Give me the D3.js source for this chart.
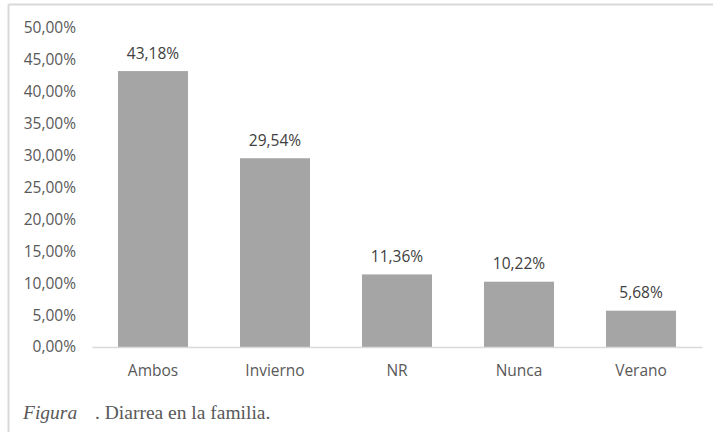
<!DOCTYPE html>
<html><head><meta charset="utf-8">
<script src="https://cdn.jsdelivr.net/npm/d3@7"></script>
<style>body{margin:0;background:#fff}svg{display:block}</style>
</head><body>
<script>
const categories = ["Ambos","Invierno","NR","Nunca","Verano"];
const values = [43.18,29.54,11.36,10.22,5.68];
const yTicks = [0,5,10,15,20,25,30,35,40,45,50];
const caption1 = "Figura";
const caption2 = ". Diarrea en la familia.";

const W=713,H=432;
const svg=d3.select("body").append("svg").attr("width",W).attr("height",H);
const fmt=v=>v.toFixed(2).replace(".",",")+"%";
// border (top and left)
svg.append("line").attr("x1",8.5).attr("x2",713).attr("y1",4.5).attr("y2",4.5).attr("stroke","#d9d9d9").attr("stroke-width",2);
svg.append("line").attr("x1",8.5).attr("x2",8.5).attr("y1",4.5).attr("y2",432).attr("stroke","#d9d9d9").attr("stroke-width",2);

const x=d3.scaleBand().domain(categories).range([92,702]).paddingInner(0.426).paddingOuter(0.213);
const y=d3.scaleLinear().domain([0,50]).range([347,27.5]);
const font="'Open Sans', sans-serif";
const fs=15.5;

const yAxis=svg.append("g").attr("transform","translate(76,0)")
 .call(d3.axisLeft(y).tickValues(yTicks).tickFormat(fmt).tickSize(0).tickPadding(0));
yAxis.select(".domain").remove();
yAxis.selectAll("text").attr("font-family",font).attr("font-size",fs).attr("fill","#595959");

svg.append("g").selectAll("rect").data(values).join("rect")
 .attr("x",(d,i)=>x(categories[i])).attr("width",x.bandwidth())
 .attr("y",d=>y(d)).attr("height",d=>y(0)-y(d)).attr("fill","#a5a5a5");

const xAxis=svg.append("g").attr("transform","translate(0,347)")
 .call(d3.axisBottom(x).tickSize(0).tickPadding(0));
xAxis.select(".domain").attr("stroke","#d9d9d9").attr("stroke-width",1.5);
xAxis.selectAll("text").attr("font-family",font).attr("font-size",fs).attr("fill","#595959").attr("dy",null).attr("y",29);

svg.append("g").selectAll("text").data(values).join("text")
 .attr("x",(d,i)=>x(categories[i])+x.bandwidth()/2).attr("y",d=>y(d)-12.5)
 .attr("text-anchor","middle").attr("font-family",font).attr("font-size",fs).attr("fill","#404040")
 .text(fmt);

const cap=svg.append("text").attr("y",419).attr("font-family","'Liberation Serif', serif").attr("font-size",19.5).attr("fill","#595959");
cap.append("tspan").attr("x",23).attr("font-style","italic").text(caption1);
cap.append("tspan").attr("x",95).text(caption2);
</script>
</body></html>
